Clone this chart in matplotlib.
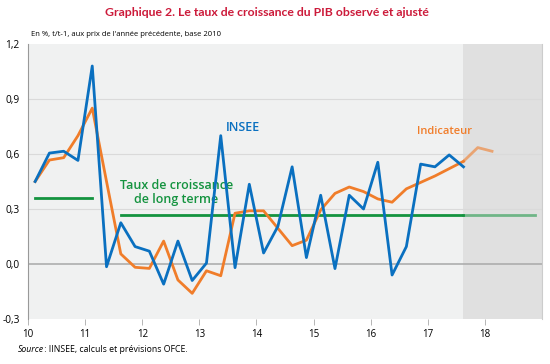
import numpy as np
import matplotlib.pyplot as plt
from matplotlib.transforms import ScaledTranslation

plt.rcParams['font.family'] = ['Open Sans', 'DejaVu Sans']

# Quarterly growth rates (%, q/q-1), from 2010T1
insee = [0.45, 0.605, 0.615, 0.565, 1.08, -0.015, 0.225, 0.095, 0.07, -0.11,
         0.125, -0.09, 0.005, 0.70, -0.02, 0.435, 0.06, 0.205, 0.53, 0.035,
         0.375, -0.025, 0.375, 0.30, 0.555, -0.06, 0.095, 0.545, 0.53, 0.595,
         0.53]
indicateur = [0.45, 0.567, 0.58, 0.70, 0.85, 0.45, 0.055, -0.018, -0.024, 0.125,
              -0.087, -0.16, -0.037, -0.064, 0.277, 0.29, 0.29, 0.195, 0.10, 0.13,
              0.295, 0.385, 0.42, 0.395, 0.355, 0.337, 0.41, 0.445, 0.48, 0.52,
              0.56, 0.635, 0.615]
# long-term growth rate: (first quarter index, last quarter index, value)
long_term = [(0, 4, 0.36), (6, 35, 0.27)]
n_observed = 31          # last observed quarter: 2017T3
year_ticks = list(range(10, 19))
y_ticks = [-0.3, 0.0, 0.3, 0.6, 0.9, 1.2]

def qpos(i):
    # mid-quarter position, year 2010 = 10
    return 10 + (np.asarray(i) + 0.5) / 4

blue = '#0a70c0'
orange = '#f07d2a'
green = '#14933f'
red = '#cc1a3a'

fig = plt.figure(figsize=(5.5, 3.64), dpi=100)
ax = fig.add_axes([28 / 550, 1 - 319 / 364, 514 / 550, 275 / 364])
ax.set_facecolor('#f0f1f1')

split = qpos(n_observed - 1)
ax.axvspan(split, 19, color='#e0e0e0', lw=0, zorder=0)

for y in [0.3, 0.6, 0.9]:
    ax.axhline(y, color='#dadada', lw=0.8, zorder=1)
ax.axhline(0, color='#a8a8a8', lw=1.1, zorder=1)

# long-term growth lines
for a, b, v in long_term:
    x0, x1 = qpos(a), qpos(b)
    ax.plot([x0, min(x1, split)], [v, v], color=green, lw=2.0, zorder=2)
    if x1 > split:
        ax.plot([split, x1], [v, v], color=green, lw=2.0, alpha=0.55, zorder=2)

xi = qpos(np.arange(len(indicateur)))
ax.plot(xi[:n_observed], indicateur[:n_observed], color=orange, lw=2.0, zorder=3)
ax.plot(xi[n_observed - 1:], indicateur[n_observed - 1:], color=orange, lw=2.0,
        alpha=0.6, zorder=3)
xb = qpos(np.arange(len(insee)))
ax.plot(xb, insee, color=blue, lw=2.0, zorder=4)

ax.text(13.76, 0.745, 'INSEE', color=blue, fontsize=9, fontweight='semibold',
        ha='center', va='center')
ax.text(17.3, 0.725, 'Indicateur', color=orange, fontsize=8,
        fontweight='semibold', ha='center', va='center')
ax.text(12.6, 0.39, 'Taux de croissance\nde long terme', color=green,
        fontsize=9, fontweight='semibold', ha='center', va='center',
        linespacing=1.1)

ax.set_xlim(10, 19)
ax.set_ylim(-0.3, 1.2)
ax.set_xticks(year_ticks)
ax.set_xticklabels([str(t) for t in year_ticks], fontsize=7)
for lab in ax.get_xticklabels():
    lab.set_transform(lab.get_transform() +
                      ScaledTranslation(4 / 100, 0, fig.dpi_scale_trans))
ax.set_yticks(y_ticks)
ax.set_yticklabels([f'{v:.1f}'.replace('.', ',') for v in y_ticks], fontsize=7.3)
ax.tick_params(axis='x', length=4, width=0.6, color='#aaaaaa', pad=3)
ax.tick_params(axis='y', length=0, pad=6)

for s in ['top', 'bottom']:
    ax.spines[s].set_visible(False)
ax.spines['left'].set_color('#999999')
ax.spines['left'].set_linewidth(0.8)
ax.spines['right'].set_color('#cccccc')
ax.spines['right'].set_linewidth(0.8)

fig.text(267 / 550, 1 - 12 / 364,
         'Graphique 2. Le taux de croissance du PIB observé et ajusté',
         color=red, fontsize=8.8, fontweight='bold', ha='center', va='center',
         family=['Lato', 'DejaVu Sans'])
fig.text(31 / 550, 1 - 34 / 364,
         "En %, t/t-1, aux prix de l'année précédente, base 2010",
         fontsize=5.5, ha='left', va='center')
fig.text(18 / 550, 1 - 350 / 364, 'Source', fontsize=6.3, style='italic',
         ha='left', va='center')
fig.text(42 / 550, 1 - 350 / 364, ' : IINSEE, calculs et prévisions OFCE.',
         fontsize=6.3, ha='left', va='center')

fig.savefig('out.png', dpi=100)
